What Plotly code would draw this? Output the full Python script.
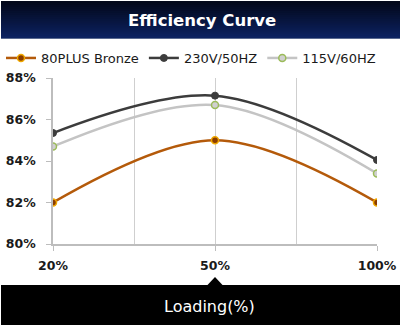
import plotly.graph_objects as go

# ---- data ----
loading_labels = ["20%", "50%", "100%"]
loading_pos = [0, 1, 2]
bronze = [82.0, 85.0, 82.0]
v230 = [85.35, 87.15, 84.05]
v115 = [84.7, 86.7, 83.4]
y_ticks = [80, 82, 84, 86, 88]
y_tick_labels = ["80%", "82%", "84%", "86%", "88%"]

W, H = 402, 326
L, R, T, B = 53, 25, 78, 82
PW, PH = W - L - R, H - T - B


def px(x):
    return (x - L) / PW


def py(y):
    return (H - B - y) / PH


fig = go.Figure()

fig.add_trace(go.Scatter(
    x=loading_pos, y=bronze, name="80PLUS Bronze", mode="lines+markers",
    line=dict(color="#b45a0a", width=2.5, shape="spline"),
    marker=dict(size=7, color="#8a3c00", line=dict(color="#f0a800", width=1.5)),
))
fig.add_trace(go.Scatter(
    x=loading_pos, y=v230, name="230V/50HZ", mode="lines+markers",
    line=dict(color="#3c3c3c", width=2.5, shape="spline"),
    marker=dict(size=7, color="#3c3c3c", line=dict(color="#3c3c3c", width=1)),
))
fig.add_trace(go.Scatter(
    x=loading_pos, y=v115, name="115V/60HZ", mode="lines+markers",
    line=dict(color="#c4c4c4", width=2.5, shape="spline"),
    marker=dict(size=7, color="#d0d0d0", line=dict(color="#9bbb59", width=1.5)),
))

shapes = []
# header gradient
top_c = (3, 8, 26)
bot_c = (12, 34, 96)
n = 19
y0, y1 = 1, 38
for i in range(n):
    t = i / (n - 1)
    c = tuple(int(top_c[k] + (bot_c[k] - top_c[k]) * t) for k in range(3))
    ya = y0 + (y1 - y0) * i / n
    yb = min(y1, y0 + (y1 - y0) * (i + 1) / n + 1.5)
    shapes.append(dict(type="rect", xref="paper", yref="paper",
                       x0=px(1), x1=px(400), y0=py(yb), y1=py(ya),
                       fillcolor="rgb(%d,%d,%d)" % c, line=dict(width=0), layer="below"))
shapes.append(dict(type="line", xref="paper", yref="paper",
                   x0=px(1), x1=px(400), y0=py(38.5), y1=py(38.5),
                   line=dict(color="#5a6a90", width=1)))
# bottom black bar
shapes.append(dict(type="rect", xref="paper", yref="paper",
                   x0=px(1), x1=px(400), y0=py(325), y1=py(285),
                   fillcolor="#000000", line=dict(width=0)))
# pointer triangle
shapes.append(dict(type="path", xref="paper", yref="paper",
                   path="M %f,%f L %f,%f L %f,%f Z" % (
                       px(207), py(285.5), px(215), py(277), px(223), py(285.5)),
                   fillcolor="#000000", line=dict(width=0)))

annotations = [
    dict(text="<b>Efficiency Curve</b>", xref="paper", yref="paper",
         x=px(202), y=py(20), xanchor="center", yanchor="middle", showarrow=False,
         font=dict(family="DejaVu Sans", size=16.5, color="#ffffff")),
    dict(text="Loading(%)", xref="paper", yref="paper",
         x=px(209), y=py(306), xanchor="center", yanchor="middle", showarrow=False,
         font=dict(family="DejaVu Sans", size=16, color="#ffffff")),
]

fig.update_layout(
    width=W, height=H,
    margin=dict(l=L, r=R, t=T, b=B, pad=0, autoexpand=False),
    paper_bgcolor="#ffffff", plot_bgcolor="#ffffff",
    shapes=shapes, annotations=annotations,
    showlegend=True,
    legend=dict(orientation="h", x=px(1), y=py(58), xanchor="left", yanchor="middle",
                font=dict(family="DejaVu Sans", size=13, color="#1a1a1a"),
                bgcolor="rgba(0,0,0,0)", itemwidth=30, tracegroupgap=0),
    xaxis=dict(range=[0, 2], tickvals=loading_pos, ticktext=loading_labels,
               showline=True, linecolor="#bdbdbd", linewidth=1.5,
               ticks="outside", ticklen=5, tickcolor="#bdbdbd",
               showgrid=True, gridcolor="#cfcfcf", gridwidth=1,
               minor=dict(tickvals=[0.5, 1.5], showgrid=True, gridcolor="#cfcfcf",
                          gridwidth=1, ticks=""),
               tickfont=dict(family="DejaVu Sans", size=12.5, color="#1a1a1a", weight="bold"),
               zeroline=False, fixedrange=True, ticklabelstandoff=4, automargin=False),
    yaxis=dict(range=[80, 88], tickvals=y_ticks, ticktext=y_tick_labels,
               showline=True, linecolor="#bdbdbd", linewidth=1.5,
               ticks="outside", ticklen=5, tickcolor="#bdbdbd",
               showgrid=False, zeroline=False,
               tickfont=dict(family="DejaVu Sans", size=12.5, color="#1a1a1a", weight="bold"),
               ticklabelstandoff=8, automargin=False),
)

fig.write_html("out.html")
